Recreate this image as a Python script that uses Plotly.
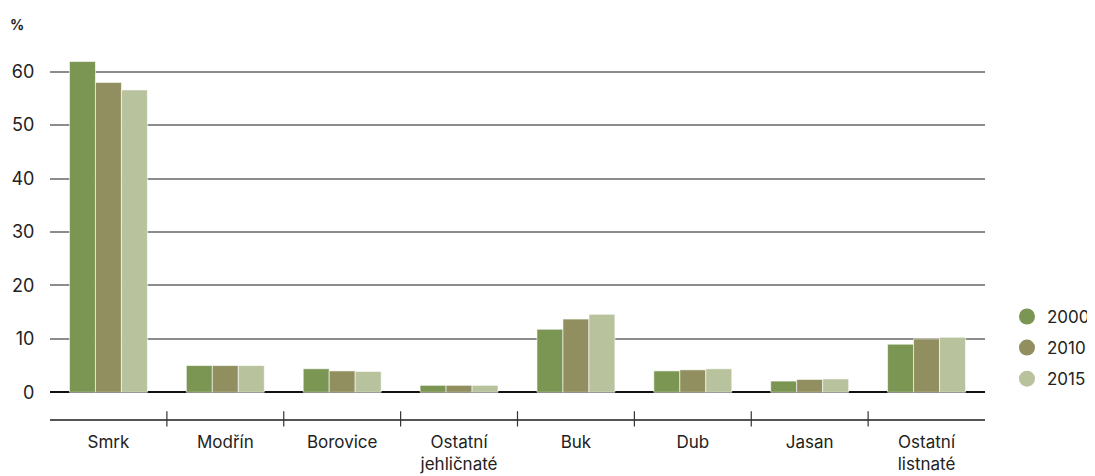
import plotly.graph_objects as go

categories = ["Smrk", "Modřín", "Borovice", "Ostatní<br>jehličnaté", "Buk", "Dub", "Jasan", "Ostatní<br>listnaté"]
years = ["2000", "2010", "2015"]
values_2000 = [61.9, 5.0, 4.4, 1.3, 11.8, 4.0, 2.1, 9.0]
values_2010 = [58.0, 5.0, 4.0, 1.3, 13.7, 4.2, 2.4, 10.0]
values_2015 = [56.6, 5.0, 3.9, 1.3, 14.6, 4.4, 2.5, 10.3]
colors = ["#7A9652", "#918F5F", "#B8C39E"]
y_ticks = [0, 10, 20, 30, 40, 50, 60]

series = [values_2000, values_2010, values_2015]
FONT = "Inter, Roboto, sans-serif"

fig = go.Figure()
for yr, vals, col in zip(years, series, colors):
    fig.add_trace(go.Bar(
        x=categories, y=vals, name=yr, marker_color=col,
        marker_line=dict(color="rgba(255,255,255,0.6)", width=1),
        showlegend=False,
    ))
for yr, col in zip(years, colors):
    fig.add_trace(go.Scatter(
        x=[None], y=[None], mode="markers", name=yr, legendgroup=yr,
        marker=dict(color=col, size=16, symbol="circle"),
    ))

# boundary ticks on the category axis line
shapes = []
for i in range(len(categories) - 1):
    shapes.append(dict(type="line", xref="x", yref="paper",
                       x0=i + 0.5, x1=i + 0.5, y0=-0.02, y1=0.021,
                       line=dict(color="#333333", width=1.2)))

# page body adds an 8px margin, so the figure is 8px smaller than the window
fig.update_layout(
    width=1087, height=468,
    margin=dict(l=42, r=110, t=37, b=57, autoexpand=False),
    paper_bgcolor="white", plot_bgcolor="white",
    barmode="group", bargap=0.333, bargroupgap=0,
    font=dict(family=FONT, size=17, color="#222222"),
    shapes=shapes,
    legend=dict(x=1.0235, y=0.19, xanchor="left", yanchor="middle",
                font=dict(size=17, color="#222222"),
                tracegroupgap=6, itemsizing="trace"),
    annotations=[dict(text="<b>%</b>", x=-0.045, y=1.055, xref="paper", yref="paper",
                      xanchor="left", yanchor="middle", showarrow=False,
                      font=dict(size=14, color="#222222"))],
)
fig.update_xaxes(
    type="category", showline=True, linecolor="#555555", linewidth=1.5,
    ticks="outside", ticklen=7, tickcolor="rgba(0,0,0,0)", automargin=False,
    tickfont=dict(size=17, color="#222222"), showgrid=False,
)
fig.update_yaxes(
    range=[-5, 65], tickvals=y_ticks, automargin=False,
    showgrid=True, gridcolor="#8C8C8C", gridwidth=1.5,
    zeroline=True, zerolinecolor="#111111", zerolinewidth=1.5,
    ticks="outside", ticklen=11, tickcolor="rgba(0,0,0,0)",
    tickfont=dict(size=18, color="#222222"), showline=False,
)

fig.write_html("out.html")
